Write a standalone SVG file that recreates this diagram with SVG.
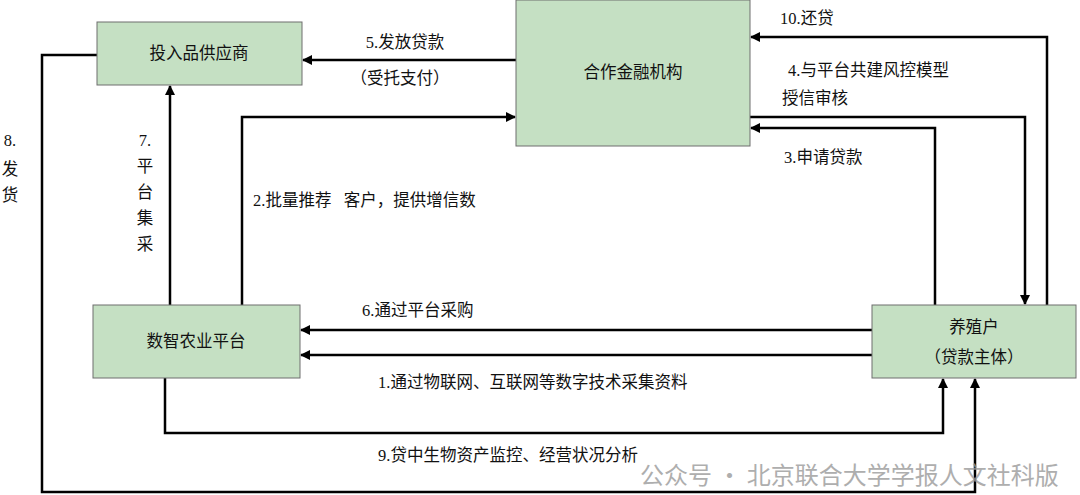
<svg xmlns="http://www.w3.org/2000/svg" width="1080" height="495" viewBox="0 0 1080 495">
<style>
.box{fill:#c5e0c3;stroke:#6e6e6e;stroke-width:1}
.t{font-family:"Liberation Serif","Noto Sans CJK SC",serif;font-size:16.5px;fill:#111}
.c{text-anchor:middle}
.ln{fill:none;stroke:#000;stroke-width:2.5;marker-end:url(#a)}
.wm{font-family:"Noto Sans CJK SC",sans-serif;font-size:24px;fill:#9a9a9a;opacity:0.8}
</style>
<defs><marker id="a" viewBox="0 0 10 10" refX="9" refY="5" markerWidth="10" markerHeight="10" markerUnits="userSpaceOnUse" orient="auto"><path d="M0,0L10,5L0,10z" fill="#000"/></marker></defs>
<rect width="1080" height="495" fill="#fff"/>
<g id="connectors">
<path class="ln" d="M516,60H303"/>
<path class="ln" d="M1047,305V37H751"/>
<path class="ln" d="M750,117H1025V304"/>
<path class="ln" d="M935,305V128H751"/>
<path class="ln" d="M242,305V117H515"/>
<path class="ln" d="M170,305V86"/>
<path class="ln" d="M97,55H42V492H975V379"/>
<path class="ln" d="M872,330H301"/>
<path class="ln" d="M872,355H301"/>
<path class="ln" d="M165,378V433H943V379"/>
<text class="t c" x="405" y="48">5.发放贷款</text>
<text class="t c" x="400" y="84">（受托支付）</text>
<text class="t" x="780" y="24">10.还贷</text>
<text class="t" x="788" y="76">4.与平台共建风控模型</text>
<text class="t" x="782" y="104">授信审核</text>
<text class="t" x="784" y="163">3.申请贷款</text>
<text class="t" x="253" y="206" xml:space="preserve">2.批量推荐   客户，提供增信数</text>
<text class="t c" x="145" y="146">7.</text>
<text class="t c" x="145" y="172">平</text>
<text class="t c" x="145" y="198">台</text>
<text class="t c" x="145" y="224">集</text>
<text class="t c" x="145" y="250">采</text>
<text class="t c" x="10" y="146">8.</text>
<text class="t c" x="10" y="175">发</text>
<text class="t c" x="10" y="201">货</text>
<text class="t" x="362" y="316">6.通过平台采购</text>
<text class="t" x="378" y="388">1.通过物联网、互联网等数字技术采集资料</text>
<text class="t" x="378" y="461">9.贷中生物资产监控、经营状况分析</text>
</g>
<g id="n1"><rect class="box" x="97" y="22" width="205" height="63"/><text class="t c" x="199" y="59">投入品供应商</text></g>
<g id="n2"><rect class="box" x="516" y="0" width="234" height="146"/><text class="t c" x="633" y="78">合作金融机构</text></g>
<g id="n3"><rect class="box" x="93" y="305" width="207" height="73"/><text class="t c" x="196" y="347">数智农业平台</text></g>
<g id="n4"><rect class="box" x="872" y="305" width="204" height="73"/><text class="t c" x="974" y="333">养殖户</text><text class="t c" x="974" y="363">（贷款主体）</text></g>
<text class="wm" x="640" y="484">公众号 · 北京联合大学学报人文社科版</text>
</svg>
